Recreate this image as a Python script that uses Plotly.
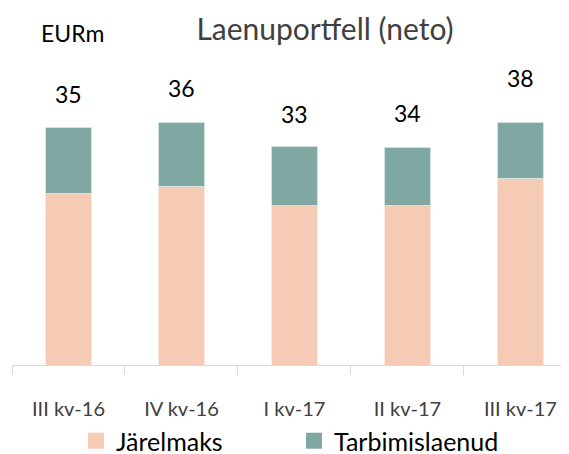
import plotly.graph_objects as go

categories = ["III kv-16", "IV kv-16", "I kv-17", "II kv-17", "III kv-17"]
jarelmaks = [25.2, 26.2, 23.5, 23.5, 27.4]
tarbimislaenud = [9.8, 9.5, 8.6, 8.5, 8.2]
total_labels = ["35", "36", "33", "34", "38"]
label_shift = [33, 34, 33, 34, 45]

PEACH = "#F5CBB5"
TEAL = "#7FA8A2"
FONT = "Lato"

# page body has an 8px margin, so the figure is laid out in coordinates offset by 8px
W, H = 561, 446
ML, MT, MB = 4, 85, 89
PW, PH = W - ML, H - MT - MB


def px(xf):
    return (xf - ML) / PW


def py(yf):
    return (H - MB - yf) / PH


fig = go.Figure()
fig.add_trace(go.Bar(x=categories, y=jarelmaks, name="Järelmaks", showlegend=False,
                     marker=dict(color=PEACH, line=dict(color="#FBE9DF", width=1)),
                     width=0.4))
fig.add_trace(go.Bar(x=categories, y=tarbimislaenud, name="Tarbimislaenud", showlegend=False,
                     marker=dict(color=TEAL, line=dict(color="#D3E2DF", width=1)),
                     width=0.4))
# legend entries with larger square swatches
for name, col in [("Järelmaks", PEACH), ("Tarbimislaenud", TEAL)]:
    fig.add_trace(go.Scatter(x=[None], y=[None], mode="markers", name=name,
                             marker=dict(symbol="square", size=16, color=col),
                             showlegend=True))

for c, a, b, t, s in zip(categories, jarelmaks, tarbimislaenud, total_labels, label_shift):
    fig.add_annotation(x=c, y=a + b, text=t, showarrow=False, yshift=s,
                       font=dict(family=FONT, size=23, color="#000000"),
                       xref="x", yref="y", yanchor="middle")

fig.add_annotation(x=px(72 - 8), y=py(33 - 8), xref="paper", yref="paper", text="EURm",
                   showarrow=False, xanchor="center", yanchor="middle",
                   font=dict(family=FONT, size=23, color="#000000"))

fig.update_layout(
    width=W, height=H,
    margin=dict(l=ML, r=0, t=MT, b=MB, autoexpand=False),
    barmode="stack",
    paper_bgcolor="white", plot_bgcolor="white",
    title=dict(text="Laenuportfell (neto)", x=(325 - 8) / W, xanchor="center",
               y=1 - (29 - 8) / H, yanchor="middle",
               font=dict(family=FONT, size=30, color="#404040")),
    showlegend=True,
    legend=dict(orientation="h", x=px(76 - 8), xanchor="left", y=py(441 - 8), yanchor="middle",
                font=dict(family=FONT, size=25, color="#000000"),
                entrywidth=173, entrywidthmode="pixels", traceorder="normal"),
    xaxis=dict(type="category", range=[-0.5, 4.43], showline=True, linecolor="#D9D9D9",
               linewidth=1, ticks="outside", tickson="boundaries", ticklen=9,
               tickcolor="#D9D9D9", showgrid=False, ticklabelstandoff=26,
               tickfont=dict(family=FONT, size=20, color="#404040")),
    yaxis=dict(range=[0, 40], visible=False, showgrid=False, zeroline=False),
)

fig.write_html("out.html")
